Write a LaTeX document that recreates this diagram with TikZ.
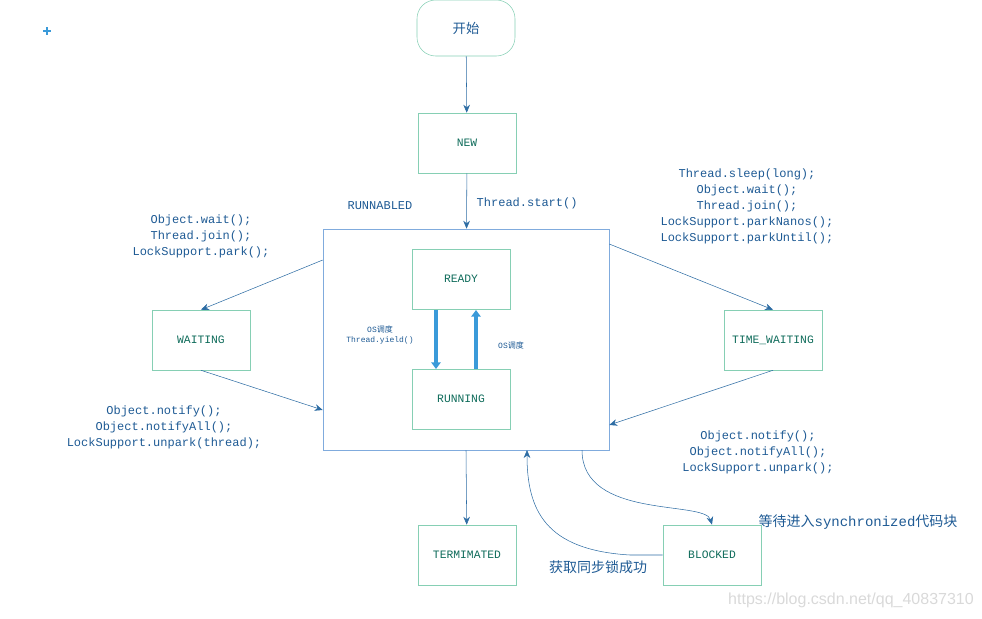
\documentclass[tikz,border=0pt]{standalone}
\usepackage{fontspec}
\setmonofont{Liberation Mono}
\setsansfont{Liberation Sans}
\newfontfamily\cjk{Noto Sans CJK SC}
\usetikzlibrary{arrows.meta}
\definecolor{linec}{HTML}{2E6DA4}
\definecolor{boxc}{HTML}{86CFB4}
\definecolor{bigc}{HTML}{80ABDD}
\definecolor{statec}{HTML}{0E6B5A}
\definecolor{textc}{HTML}{1E5A94}
\definecolor{thickc}{HTML}{3A9AD9}

\begin{document}
\begin{tikzpicture}[x=0.75pt,y=-0.75pt,>={Stealth[length=6pt,width=5pt]},draw=linec]
    \tikzstyle{state}=[draw=boxc,minimum width=73.5pt,minimum height=45pt,inner sep=0pt,
        text=statec,font=\ttfamily\fontsize{8.5}{10}\selectfont]
    \tikzstyle{annot}=[align=center,text=textc,font=\ttfamily\fontsize{9}{12}\selectfont]
    \tikzstyle{zh}=[text=textc,font=\cjk\fontsize{10.5}{12}\selectfont]
    \tikzstyle{sched}=[->,line width=3.5pt,draw=thickc,>={Triangle[length=5pt,width=7pt]}]

    \useasboundingbox (0,0) rectangle (982,618);

    % states
    \node[draw=boxc,rounded corners=14pt,minimum width=73.5pt,minimum height=42pt,text=textc,
        font=\cjk\fontsize{10}{12}\selectfont] (start) at (466,28) {开始};
    \node[state] (new) at (467,143) {NEW};
    \node[draw=bigc,minimum width=214.5pt,minimum height=165.75pt,inner sep=0pt] (run) at (466,339.5) {};
    \node[annot,anchor=center] (runlab) at (380,206) {RUNNABLED};
    \node[state] (ready) at (461,279) {READY};
    \node[state] (running) at (461,399) {RUNNING};
    \node[state] (wait) at (201,340) {WAITING};
    \node[state] (twait) at (773,340) {TIME\_WAITING};
    \node[state] (term) at (467,555) {TERMIMATED};
    \node[state] (block) at (712,555) {BLOCKED};

    % edges
    \draw[->] (start) -- (new);
    \draw[->] (new) -- node[annot,right=4pt,pos=0.55] {Thread.start()} (run);
    \draw[->] (run.west |- 0,260) -- (wait.north);
    \draw[->] (wait.south) -- (run.west |- 0,410);
    \draw[->] (run.east |- 0,244) -- (twait.north);
    \draw[->] (twait.south) -- (run.east |- 0,425);
    \draw[->] (run.south) -- (term);
    \coordinate (rb1) at (582,450);
    \coordinate (rb2) at (527,450);
    \draw[->] (rb1) .. controls (582,520) and (705,500) .. (block.north);
    \draw[->] (block.west) -- (630,555) .. controls (545,550) and (527,510) .. (rb2);
    \draw[sched] (436,310) -- (436,369);
    \draw[sched] (476,369) -- (476,310);

    % labels
    \node[annot,font=\ttfamily\fontsize{6}{8}\selectfont] at (380,335) {OS{\cjk 调度}\\Thread.yield()};
    \node[annot,font=\ttfamily\fontsize{6}{8}\selectfont] at (511,345) {OS{\cjk 调度}};
    \node[annot] at (201,236) {Object.wait();\\Thread.join();\\LockSupport.park();};
    \node[annot] at (164,427) {Object.notify();\\Object.notifyAll();\\LockSupport.unpark(thread);};
    \node[annot] at (747,206) {Thread.sleep(long);\\Object.wait();\\Thread.join();\\LockSupport.parkNanos();\\LockSupport.parkUntil();};
    \node[annot] at (758,452) {Object.notify();\\Object.notifyAll();\\LockSupport.unpark();};
    \node[zh] at (858,522) {等待进入\texttt{synchronized}代码块};
    \node[zh] at (598,567) {获取同步锁成功};
    \node[text=black!15,font=\sffamily\fontsize{12}{12}\selectfont] at (851,600) {https://blog.csdn.net/qq\_40837310};
    \draw[thickc,line width=0.8pt] (43,31) -- (51,31) (47,27) -- (47,35);
\end{tikzpicture}
\end{document}
